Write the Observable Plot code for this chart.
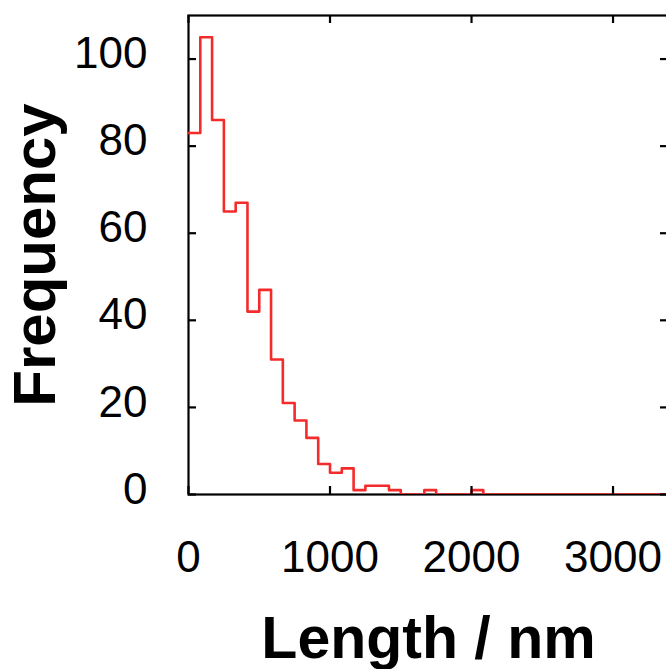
<!DOCTYPE html>
<html><head><meta charset="utf-8">
<script src="https://cdn.jsdelivr.net/npm/d3@7"></script>
<script src="https://cdn.jsdelivr.net/npm/@observablehq/plot@0.6"></script>
<style>html,body{margin:0;padding:0;background:#fff;overflow:hidden;}</style>
</head><body><div id="chart"></div>
<script>
// Histogram of lengths, bin width = 1000/12 nm
const binWidth = 1000 / 12;
const counts = [83,105,86,65,67,42,47,31,21,17,13,7,5,6,1,2,2,1,0,0,1,0,0,0,1,0,0,0,0,0,0,0,0,0,0,0,0,0,0,0,0];
const xTicks = [0, 1000, 2000, 3000];
const yTicks = [0, 20, 40, 60, 80, 100];
const xLabel = "Length / nm";
const yLabel = "Frequency";

const steps = counts.map((c, i) => ({x: i * binWidth, y: c}));
steps.push({x: counts.length * binWidth, y: counts[counts.length - 1]});

const W = 672, H = 669, mL = 188, mR = 4, mT = 15, mB = 175;
const fw = W - mL - mR, fh = H - mT - mB;
const tk = 8;
const font = "'Liberation Sans', Arial, Helvetica, sans-serif";

const chart = Plot.plot({
  width: W, height: H,
  marginLeft: mL, marginRight: mR, marginTop: mT, marginBottom: mB,
  style: {fontFamily: font, background: "#fff", color: "#000", maxWidth: "none"},
  x: {domain: [0, 3392], axis: null},
  y: {domain: [0, 110], axis: null},
  marks: [
    Plot.frame({stroke: "#000", strokeWidth: 2.2}),
    Plot.line(steps, {x: "x", y: "y", curve: "step-after", stroke: "#f42b2b", strokeWidth: 2.6, clip: "frame"}),
    Plot.tickX(xTicks, {x: d => d, insetTop: fh - tk, stroke: "#000", strokeWidth: 2.2}),
    Plot.tickX(xTicks, {x: d => d, insetBottom: fh - tk, stroke: "#000", strokeWidth: 2.2}),
    Plot.tickY(yTicks, {y: d => d, insetRight: fw - tk, stroke: "#000", strokeWidth: 2.2}),
    Plot.tickY(yTicks, {y: d => d, insetLeft: fw - tk, stroke: "#000", strokeWidth: 2.2}),
    Plot.text(xTicks, {x: d => d, frameAnchor: "bottom", lineAnchor: "top", dy: 46, text: d => String(d), fontSize: 44}),
    Plot.text(yTicks, {y: d => d, frameAnchor: "left", textAnchor: "end", lineAnchor: "middle", dx: -41, dy: -5, text: d => String(d), fontSize: 44}),
    Plot.text([xLabel], {frameAnchor: "bottom", textAnchor: "middle", lineAnchor: "bottom", dy: 163, text: d => d, fontSize: 59, fontWeight: "bold"}),
    Plot.text([yLabel], {frameAnchor: "left", textAnchor: "middle", lineAnchor: "bottom", rotate: -90, dx: -134, text: d => d, fontSize: 60, fontWeight: "bold"})
  ]
});
document.getElementById("chart").appendChild(chart);
</script>
</body></html>
